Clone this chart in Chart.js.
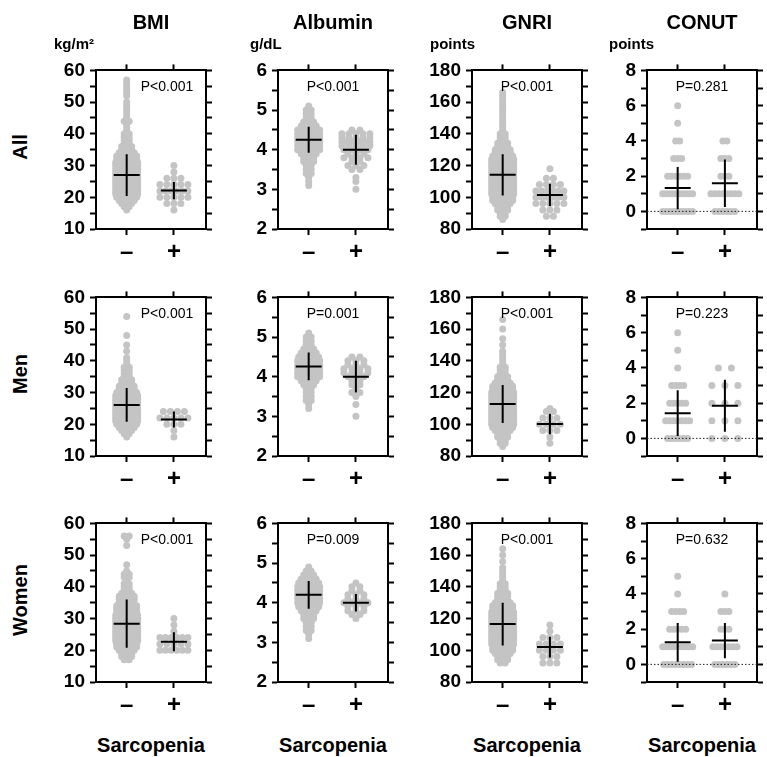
<!DOCTYPE html>
<html>
<head>
<meta charset="utf-8">
<script src="https://cdn.jsdelivr.net/npm/chart.js@4.4.1/dist/chart.umd.min.js"></script>
<style>
  body { margin: 0; background: #fff; width: 767px; height: 757px; position: relative; overflow: hidden;
         font-family: "Liberation Sans", Arial, sans-serif; }
  .t { position: absolute; white-space: nowrap; color: #000; line-height: 1; }
  canvas { position: absolute; }
</style>
</head>
<body>
<script>
// ---- labels ----
const varNames = ['BMI', 'Albumin', 'GNRI', 'CONUT'];
const unitNames = ['kg/m\u00b2', 'g/dL', 'points', 'points'];
const rowNames = ['All', 'Men', 'Women'];
const groupLabels = ['\u2013', '+'];
const pAll = ['P<0.001', 'P<0.001', 'P<0.001', 'P=0.281'];
const pMen = ['P<0.001', 'P=0.001', 'P<0.001', 'P=0.223'];
const pWomen = ['P<0.001', 'P=0.009', 'P<0.001', 'P=0.632'];

// ---- axes ----
const yMin = [10, 2, 80, -1];
const yMax = [60, 6, 180, 8];
const minorStep = [5, 0.5, 10, 1];
const majorStep = [10, 1, 20, 2];

// ---- value levels (rows of the swarm) ----
const bmiLevels = [15,16,17,18,19,20,21,22,23,24,25,26,27,28,29,30,31,32,33,34,35,36,37,38,39,40,41,42,43,44,45,46,47,48,49,50,51,52,53,54,55,56,57];
const albLevels = [3.0,3.1,3.2,3.3,3.4,3.5,3.6,3.7,3.8,3.9,4.0,4.1,4.2,4.3,4.4,4.5,4.6,4.7,4.8,4.9,5.0,5.1];
const gnriLevels = [84,86,88,90,92,94,96,98,100,102,104,106,108,110,112,114,116,118,120,122,124,126,128,130,132,134,136,138,140,142,144,146,148,150,152,154,156,158,160,162,164,166,168];
const conutLevels = [0,1,2,3,4,5,6];

// ---- dot counts per level ----
const bmiAllNeg   = [0,1,2,3,4,5,6,7,8,8, 9,9,9,8,8,7,6,5,5,4, 3,3,2,2,2,2,1,1,1,2, 1,1,1,1,1,1,0,1,1,1, 1,1,1];
const bmiAllPos   = [0,1,0,3,0,5,0,6,0,5, 0,3,0,1,0,1,0,0,0,0, 0,0,0,0,0,0,0,0,0,0, 0,0,0,0,0,0,0,0,0,0, 0,0,0];
const bmiMenNeg   = [0,1,2,3,4,5,6,7,8,8, 8,8,7,7,6,5,4,4,3,3, 2,2,2,2,1,1,1,0,1,0, 1,0,0,1,0,0,0,0,0,1, 0,0,0];
const bmiMenPos   = [0,1,0,1,0,3,0,5,0,4, 0,0,0,0,0,0,0,0,0,0, 0,0,0,0,0,0,0,0,0,0, 0,0,0,0,0,0,0,0,0,0, 0,0,0];
const bmiWomenNeg = [0,0,2,3,3,4,5,5,6,6, 6,7,7,7,6,6,6,5,5,5, 4,4,4,3,2,2,2,1,2,2, 1,0,1,0,0,0,0,0,1,0, 1,2,0];
const bmiWomenPos = [0,0,0,0,0,6,0,5,0,6, 0,1,0,1,0,1,0,0,0,0, 0,0,0,0,0,0,0,0,0,0, 0,0,0,0,0,0,0,0,0,0, 0,0,0];

const albAllNeg   = [0,1,1,1,2,2,2,3,3,4, 7,8,9,9,8,6,4,3,2,2, 2,1];
const albAllPos   = [1,0,1,1,0,2,3,2,4,3, 4,5,6,5,5,2,0,0,0,0, 0,0];
const albMenNeg   = [0,0,1,1,2,2,2,2,3,4, 6,7,8,8,8,5,4,3,2,2, 2,1];
const albMenPos   = [1,0,0,1,0,1,2,1,2,2, 3,4,4,3,3,2,0,0,0,0, 0,0];
const albWomenNeg = [0,1,1,2,2,2,3,3,4,5, 7,8,8,8,7,5,4,3,2,1, 0,0];
const albWomenPos = [0,0,0,0,0,0,1,2,3,3, 4,3,3,2,2,1,0,0,0,0, 0,0];

const gnriAllNeg   = [0,1,2,2,3,3,4,5,5,6, 7,7,8,8,9,9,9,8,8,7, 6,5,4,4,3,3,2,2,2,1, 1,1,1,1,1,1,1,1,1,1, 1,1,0];
const gnriAllPos   = [0,0,2,0,3,0,5,0,6,0, 6,0,4,0,2,0,0,1,0,0, 0,0,0,0,0,0,0,0,0,0, 0,0,0,0,0,0,0,0,0,0, 0,0,0];
const gnriMenNeg   = [0,1,2,2,3,3,4,5,6,6, 7,7,8,8,8,8,7,7,6,5, 5,4,3,3,2,2,2,1,1,1, 1,1,0,1,0,1,0,0,1,0, 0,1,0];
const gnriMenPos   = [0,0,1,0,1,0,3,0,4,0, 3,0,2,1,0,0,0,0,0,0, 0,0,0,0,0,0,0,0,0,0, 0,0,0,0,0,0,0,0,0,0, 0,0,0];
const gnriWomenNeg = [0,0,0,0,2,3,3,4,5,5, 6,6,7,7,7,7,7,7,6,6, 6,5,5,4,3,3,3,2,2,2, 1,1,1,1,1,0,1,0,1,0, 1,0,0];
const gnriWomenPos = [0,0,0,0,3,0,3,0,4,0, 4,0,3,0,1,0,1,0,0,0, 0,0,0,0,0,0,0,0,0,0, 0,0,0,0,0,0,0,0,0,0, 0,0,0];

const conutAllNeg   = [9,10,6,3,2,1,1];
const conutAllPos   = [6,8,3,3,2,0,0];
const conutMenNeg   = [6,7,5,4,1,1,1];
const conutMenPos   = [3,3,3,3,2,0,0];
const conutWomenNeg = [8,9,5,4,1,1,0];
const conutWomenPos = [6,7,3,3,1,0,0];

// ---- mean and SD, order: All-, All+, Men-, Men+, Women-, Women+ ----
const bmiMean   = [27.0, 22.1, 26.1, 21.5, 28.4, 22.7];
const bmiSD     = [6.6, 2.7, 5.3, 2.5, 7.6, 3.0];
const albMean   = [4.25, 4.0, 4.26, 4.0, 4.2, 4.0];
const albSD     = [0.33, 0.38, 0.35, 0.4, 0.35, 0.22];
const gnriMean  = [114.2, 101.5, 112.8, 100.2, 116.5, 102.0];
const gnriSD    = [13.0, 7.0, 12.0, 6.5, 13.5, 6.5];
const conutMean = [1.32, 1.6, 1.43, 1.85, 1.25, 1.35];
const conutSD   = [1.2, 1.35, 1.3, 1.47, 1.1, 1.0];

// ---- layout ----
const boxLeft = [96, 278, 472, 647];
const boxTop = [64, 291, 517];
const boxW = 110, boxH = 165;
const axisW = 50, topH = 10, rightW = 12, bottomH = 40;
const xMin = -0.65, xMax = 1.68;
const pxPerX = boxW / (xMax - xMin);
const dotColor = '#c4c4c4';
const FONT = '"Liberation Sans", Arial, sans-serif';

const levelsByCol = [bmiLevels, albLevels, gnriLevels, conutLevels];
const countsByCol = [
  [bmiAllNeg, bmiAllPos, bmiMenNeg, bmiMenPos, bmiWomenNeg, bmiWomenPos],
  [albAllNeg, albAllPos, albMenNeg, albMenPos, albWomenNeg, albWomenPos],
  [gnriAllNeg, gnriAllPos, gnriMenNeg, gnriMenPos, gnriWomenNeg, gnriWomenPos],
  [conutAllNeg, conutAllPos, conutMenNeg, conutMenPos, conutWomenNeg, conutWomenPos]
];
const meanByCol = [bmiMean, albMean, gnriMean, conutMean];
const sdByCol = [bmiSD, albSD, gnriSD, conutSD];
const pByRow = [pAll, pMen, pWomen];

// horizontal spacing of dots in a row (px) and max spread (px, centre to centre)
function dotGap(col, row, g) {
  if (col === 3) return (row === 1 && g === 1) ? 13 : 4;
  if (col === 1 && g === 1) return 8;
  return g === 0 ? 5 : 7;
}
function maxSpread(col, g) {
  if (col === 3) return 30;
  return g === 0 ? 22 : 28;
}

function swarm(levels, counts, cat, gapPx, spread) {
  const pts = [];
  levels.forEach((v, i) => {
    const n = counts[i];
    if (!n) return;
    const gap = n > 1 ? Math.min(gapPx, spread / (n - 1)) : 0;
    for (let k = 0; k < n; k++) {
      pts.push({ x: cat + (k - (n - 1) / 2) * gap / pxPerX, y: v });
    }
  });
  return pts;
}

function addText(txt, x, y, css, rot) {
  const d = document.createElement('div');
  d.className = 't';
  d.textContent = txt;
  d.style.left = x + 'px';
  d.style.top = y + 'px';
  d.style.cssText += css;
  d.style.transform = 'translate(-50%,-50%)' + (rot ? ' rotate(-90deg)' : '');
  document.body.appendChild(d);
  return d;
}

function isMajor(v, step) {
  const r = v / step;
  return Math.abs(r - Math.round(r)) < 1e-6;
}

function makePanel(row, col) {
  const cv = document.createElement('canvas');
  const w = axisW + boxW + rightW, h = topH + boxH + bottomH;
  cv.width = w; cv.height = h;
  cv.style.width = w + 'px'; cv.style.height = h + 'px';
  cv.style.left = (boxLeft[col] - axisW) + 'px';
  cv.style.top = (boxTop[row] - topH) + 'px';
  document.body.appendChild(cv);

  const datasets = [];
  const idx = row * 2;
  for (let g = 0; g < 2; g++) {
    const m = meanByCol[col][idx + g], s = sdByCol[col][idx + g];
    datasets.push({ data: [{ x: g - 0.275, y: m }, { x: g + 0.275, y: m }], showLine: true,
      pointRadius: 0, borderColor: '#000', borderWidth: 2, order: 0 });
    datasets.push({ data: [{ x: g, y: m - s }, { x: g, y: m + s }], showLine: true,
      pointRadius: 0, borderColor: '#000', borderWidth: 2, order: 0 });
  }
  if (col === 3) {
    datasets.push({ data: [{ x: xMin, y: 0 }, { x: xMax, y: 0 }], showLine: true, pointRadius: 0,
      borderColor: '#222', borderWidth: 1, borderDash: [1.5, 2], order: 1 });
  }
  for (let g = 0; g < 2; g++) {
    datasets.push({
      data: swarm(levelsByCol[col], countsByCol[col][idx + g], g, dotGap(col, row, g), maxSpread(col, g)),
      pointRadius: 3.5, pointBackgroundColor: dotColor, pointBorderWidth: 0, order: 2 });
  }

  const lineAxis = {
    display: true, drawOnChartArea: false, drawTicks: true, tickLength: 6,
    tickWidth: 2, color: '#000'
  };
  const border = { display: true, width: 2, color: '#000' };
  const catTicks = s => { s.ticks = [{ value: 0 }, { value: 1 }]; };

  new Chart(cv, {
    type: 'scatter',
    data: { datasets },
    options: {
      responsive: false, animation: false, events: [],
      layout: { padding: 0 },
      plugins: { legend: { display: false }, tooltip: { enabled: false } },
      scales: {
        x: {
          type: 'linear', position: 'bottom', min: xMin, max: xMax,
          afterBuildTicks: catTicks,
          afterFit: s => { s.height = bottomH; },
          ticks: { autoSkip: false, maxRotation: 0, padding: 3, color: '#000',
            font: { family: FONT, size: 24, weight: 'bold' },
            callback: v => groupLabels[Math.round(v)] },
          grid: lineAxis, border
        },
        x2: {
          type: 'linear', position: 'top', min: xMin, max: xMax,
          afterBuildTicks: catTicks,
          afterFit: s => { s.height = topH; },
          ticks: { display: false },
          grid: lineAxis, border
        },
        y: {
          type: 'linear', position: 'left', min: yMin[col], max: yMax[col],
          afterFit: s => { s.width = axisW; },
          ticks: { stepSize: minorStep[col], autoSkip: false, padding: 5, color: '#000',
            font: { family: FONT, size: 19, weight: 'bold' },
            callback: v => isMajor(v, majorStep[col]) ? String(v) : '' },
          grid: lineAxis, border
        },
        y2: {
          type: 'linear', position: 'right', min: yMin[col], max: yMax[col],
          afterFit: s => { s.width = rightW; },
          ticks: { stepSize: minorStep[col], display: false },
          grid: lineAxis, border
        }
      }
    }
  });

  // p value inside the box
  const px = boxLeft[col] + boxW / 2 + (col === 0 ? 16 : 0);
  addText(pByRow[row][col], px, boxTop[row] + 22, 'font-size:14px;');
}

for (let r = 0; r < 3; r++) {
  for (let c = 0; c < 4; c++) makePanel(r, c);
}

const unitLeft = [54, 250, 430, 609];
for (let c = 0; c < 4; c++) {
  const cx = boxLeft[c] + boxW / 2;
  addText(varNames[c], cx, 22, 'font-size:20px;font-weight:bold;');
  const u = addText(unitNames[c], 0, 43, 'font-size:15px;font-weight:bold;');
  u.style.transform = 'translate(0,-50%)';
  u.style.left = unitLeft[c] + 'px';
  addText('Sarcopenia', cx, 745, 'font-size:20px;font-weight:bold;');
}
for (let r = 0; r < 3; r++) {
  addText(rowNames[r], 20, boxTop[r] + boxH / 2, 'font-size:20px;font-weight:bold;', true);
}
</script>
</body>
</html>
